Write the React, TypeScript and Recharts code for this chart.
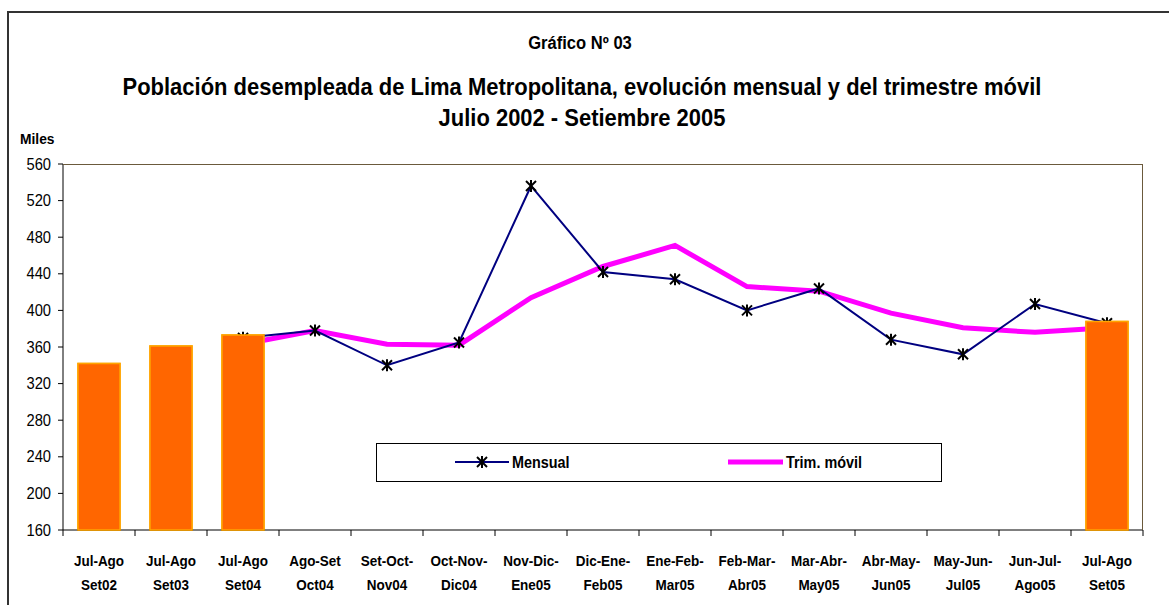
import { Bar, ComposedChart, Line, XAxis, YAxis } from "recharts";

const categorias = [
  "Jul-Ago\nSet02",
  "Jul-Ago\nSet03",
  "Jul-Ago\nSet04",
  "Ago-Set\nOct04",
  "Set-Oct-\nNov04",
  "Oct-Nov-\nDic04",
  "Nov-Dic-\nEne05",
  "Dic-Ene-\nFeb05",
  "Ene-Feb-\nMar05",
  "Feb-Mar-\nAbr05",
  "Mar-Abr-\nMay05",
  "Abr-May-\nJun05",
  "May-Jun-\nJul05",
  "Jun-Jul-\nAgo05",
  "Jul-Ago\nSet05",
];
const barras = [342, 361, 373, null, null, null, null, null, null, null, null, null, null, null, 388];
const mensual = [null, null, 370, 378, 340, 365, 536, 442, 434, 400, 424, 368, 352, 407, 386];
const trimMovil = [null, null, 363, 378, 363, 362, 414, 448, 471, 426, 421, 397, 381, 376, 381];
const yTicks = [160, 200, 240, 280, 320, 360, 400, 440, 480, 520, 560];

const data = categorias.map((c, i) => ({
  cat: c,
  barra: barras[i],
  mensual: mensual[i],
  trim: trimMovil[i],
}));

const FONT = "'Liberation Sans', Arial, sans-serif";
const STEP = 72;
const MARGIN = { top: 164, right: 26, left: 0, bottom: 0 };

function Asterisco(props: any) {
  const { cx, cy, value } = props;
  if (cx == null || cy == null || value == null) return null;
  return (
    <g stroke="#000" strokeWidth={2}>
      <line x1={cx - 5} y1={cy - 5} x2={cx + 5} y2={cy + 5} />
      <line x1={cx - 5} y1={cy + 5} x2={cx + 5} y2={cy - 5} />
      <line x1={cx} y1={cy - 6} x2={cx} y2={cy + 6} />
    </g>
  );
}

function XTick(props: any) {
  const { x, y, payload, index } = props;
  const [l1, l2] = String(payload.value).split("\n");
  return (
    <g>
      {index === 0 && <line x1={x - STEP / 2} x2={x - STEP / 2} y1={y} y2={y + 6} stroke="#000" />}
      <line x1={x + STEP / 2} x2={x + STEP / 2} y1={y} y2={y + 6} stroke="#000" />
      <text transform={`translate(${x},${y + 36}) scale(0.9,1)`} textAnchor="middle" fontSize={15} fontWeight="bold" fill="#000">
        {l1}
      </text>
      <text transform={`translate(${x},${y + 60}) scale(0.9,1)`} textAnchor="middle" fontSize={15} fontWeight="bold" fill="#000">
        {l2}
      </text>
    </g>
  );
}

function YTick(props: any) {
  const { x, y, payload } = props;
  return (
    <text transform={`translate(${x},${y + 5.5}) scale(0.92,1)`} textAnchor="end" fontSize={16} fill="#000">
      {payload.value}
    </text>
  );
}

export default function App() {
  return (
    <div
      style={{
        position: "absolute",
        left: 0,
        top: 0,
        width: 1169,
        height: 605,
        overflow: "hidden",
        background: "#fff",
        fontFamily: FONT,
      }}
    >
      <div
        style={{
          position: "absolute",
          left: 7,
          top: 11,
          width: 1250,
          height: 700,
          borderTop: "2px solid #333",
          borderLeft: "2px solid #333",
        }}
      />
      <div
        style={{
          position: "absolute",
          left: 0,
          width: 1160,
          top: 33,
          textAlign: "center",
          fontWeight: "bold",
          fontSize: 18,
          transform: "scaleX(0.92)",
        }}
      >
        Gráfico Nº 03
      </div>
      <div
        style={{
          position: "absolute",
          left: 0,
          width: 1164,
          top: 71,
          textAlign: "center",
          fontWeight: "bold",
          fontSize: 24,
          lineHeight: "31px",
          transform: "scaleX(0.915)",
        }}
      >
        Población desempleada de Lima Metropolitana, evolución mensual y del trimestre móvil
        <br />
        Julio 2002 - Setiembre 2005
      </div>
      <div style={{ position: "absolute", left: 20, top: 130, fontWeight: "bold", fontSize: 15, transform: "scaleX(0.92)", transformOrigin: "left" }}>
        Miles
      </div>

      <div style={{ position: "absolute", left: 0, top: 0 }}>
        <ComposedChart width={1169} height={605} data={data} margin={MARGIN} style={{ fontFamily: FONT }}>
          <XAxis
            dataKey="cat"
            interval={0}
            height={75}
            tickLine={false}
            tickSize={0}
            tickMargin={0}
            axisLine={{ stroke: "#000" }}
            tick={<XTick />}
          />
          <YAxis
            domain={[160, 560]}
            ticks={yTicks}
            width={63}
            tickSize={5}
            tickMargin={7}
            axisLine={{ stroke: "#000" }}
            tickLine={{ stroke: "#000" }}
            tick={<YTick />}
            interval={0}
          />
          <Bar dataKey="barra" barSize={42} fill="#FF6600" stroke="#FFA500" strokeWidth={1.5} isAnimationActive={false} />
          <Line
            dataKey="trim"
            stroke="#FF00FF"
            strokeWidth={5}
            dot={false}
            activeDot={false}
            isAnimationActive={false}
          />
          <Line
            dataKey="mensual"
            stroke="#000080"
            strokeWidth={2}
            dot={<Asterisco />}
            activeDot={false}
            isAnimationActive={false}
          />
        </ComposedChart>
      </div>

      {/* bars again on a second chart so they sit above the lines, as in the original */}
      <div style={{ position: "absolute", left: 0, top: 0 }}>
        <ComposedChart width={1169} height={605} data={data} margin={MARGIN}>
          <XAxis dataKey="cat" height={75} axisLine={false} tickLine={false} tick={false} />
          <YAxis domain={[160, 560]} ticks={yTicks} width={63} axisLine={false} tickLine={false} tick={false} />
          <Bar dataKey="barra" barSize={42} fill="#FF6600" stroke="#FFA500" strokeWidth={1.5} isAnimationActive={false} />
        </ComposedChart>
      </div>

      <div
        style={{
          position: "absolute",
          left: 63,
          top: 164,
          width: 1080,
          height: 366,
          borderTop: "1px solid #6b5a3c",
          borderRight: "1px solid #6b5a3c",
          boxSizing: "border-box",
          pointerEvents: "none",
        }}
      />

      <div
        style={{
          position: "absolute",
          left: 376,
          top: 443,
          width: 566,
          height: 39,
          border: "1px solid #000",
          boxSizing: "border-box",
          background: "#fff",
        }}
      >
        <svg width={566} height={39} style={{ position: "absolute", left: -1, top: -1 }}>
          <line x1={79} x2={133} y1={19} y2={19} stroke="#000080" strokeWidth={2} />
          <Asterisco cx={106} cy={19} value={1} />
          <text transform="translate(136,25) scale(0.9,1)" fontSize={16} fontWeight="bold" fill="#000">
            Mensual
          </text>
          <line x1={352} x2={407} y1={19} y2={19} stroke="#FF00FF" strokeWidth={5} />
          <text transform="translate(410,25) scale(0.9,1)" fontSize={16} fontWeight="bold" fill="#000">
            Trim. móvil
          </text>
        </svg>
      </div>
    </div>
  );
}
